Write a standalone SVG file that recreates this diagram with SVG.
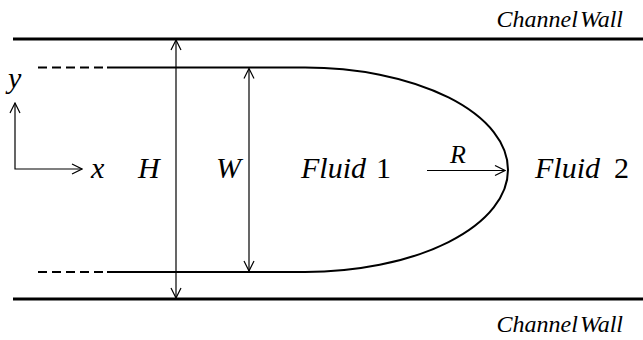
<svg xmlns="http://www.w3.org/2000/svg" width="643" height="340" viewBox="0 0 643 340" font-family="Liberation Serif, serif">
<style>
text{font-family:'Liberation Serif',serif !important;font-style:italic;fill:#000}
.n{font-style:normal}
.wall{stroke:#000;stroke-width:3;fill:none}
.ifc{stroke:#000;stroke-width:2;fill:none}
.dash{stroke:#000;stroke-width:2;stroke-dasharray:9,5;fill:none}
.ar{stroke:#000;stroke-width:1.2;fill:none}
</style>
<defs>
<marker id="ah" viewBox="0 0 12 12" refX="11" refY="6" markerWidth="12" markerHeight="12" markerUnits="userSpaceOnUse" orient="auto-start-reverse">
<polyline points="1,1 11,6 1,11" fill="none" stroke="#000" stroke-width="1.2"/>
</marker>
</defs>
<rect width="643" height="340" fill="#fff"/>
<g id="walls">
<line class="wall" x1="13" y1="39" x2="643" y2="39"/>
<line class="wall" x1="13" y1="299" x2="643" y2="299"/>
<text x="623" y="27" font-family="Liberation Serif" font-size="24" word-spacing="-4" text-anchor="end">Channel Wall</text>
<text x="623" y="332" font-family="Liberation Serif" font-size="24" word-spacing="-4" text-anchor="end">Channel Wall</text>
</g>
<g id="interface">
<line class="dash" x1="38" y1="67.5" x2="104" y2="67.5"/>
<line class="dash" x1="38" y1="272" x2="104" y2="272"/>
<path class="ifc" d="M107,67.5 H305 A203,102.25 0 0 1 305,272 H107"/>
</g>
<g id="axes">
<polyline class="ar" points="15,103 15,169 82,169" marker-start="url(#ah)" marker-end="url(#ah)"/>
<text x="8" y="88" font-family="Liberation Serif" font-size="30">y</text>
<text x="91" y="178" font-family="Liberation Serif" font-size="30">x</text>
</g>
<g id="connectors">
<line class="ar" x1="176" y1="40" x2="176" y2="298" marker-start="url(#ah)" marker-end="url(#ah)"/>
<line class="ar" x1="249" y1="68.5" x2="249" y2="271" marker-start="url(#ah)" marker-end="url(#ah)"/>
<line class="ar" x1="427" y1="170.5" x2="505" y2="170.5" marker-end="url(#ah)"/>
</g>
<g id="labels">
<text x="138" y="178" font-family="Liberation Serif" font-size="30">H</text>
<text x="216" y="178" font-family="Liberation Serif" font-size="30">W</text>
<text x="301" y="178" font-family="Liberation Serif" font-size="30">Fluid<tspan class="n" dx="10">1</tspan></text>
<text x="450" y="163" font-family="Liberation Serif" font-size="26">R</text>
<text x="535" y="178" font-family="Liberation Serif" font-size="30">Fluid<tspan class="n" dx="14">2</tspan></text>
</g>
</svg>
